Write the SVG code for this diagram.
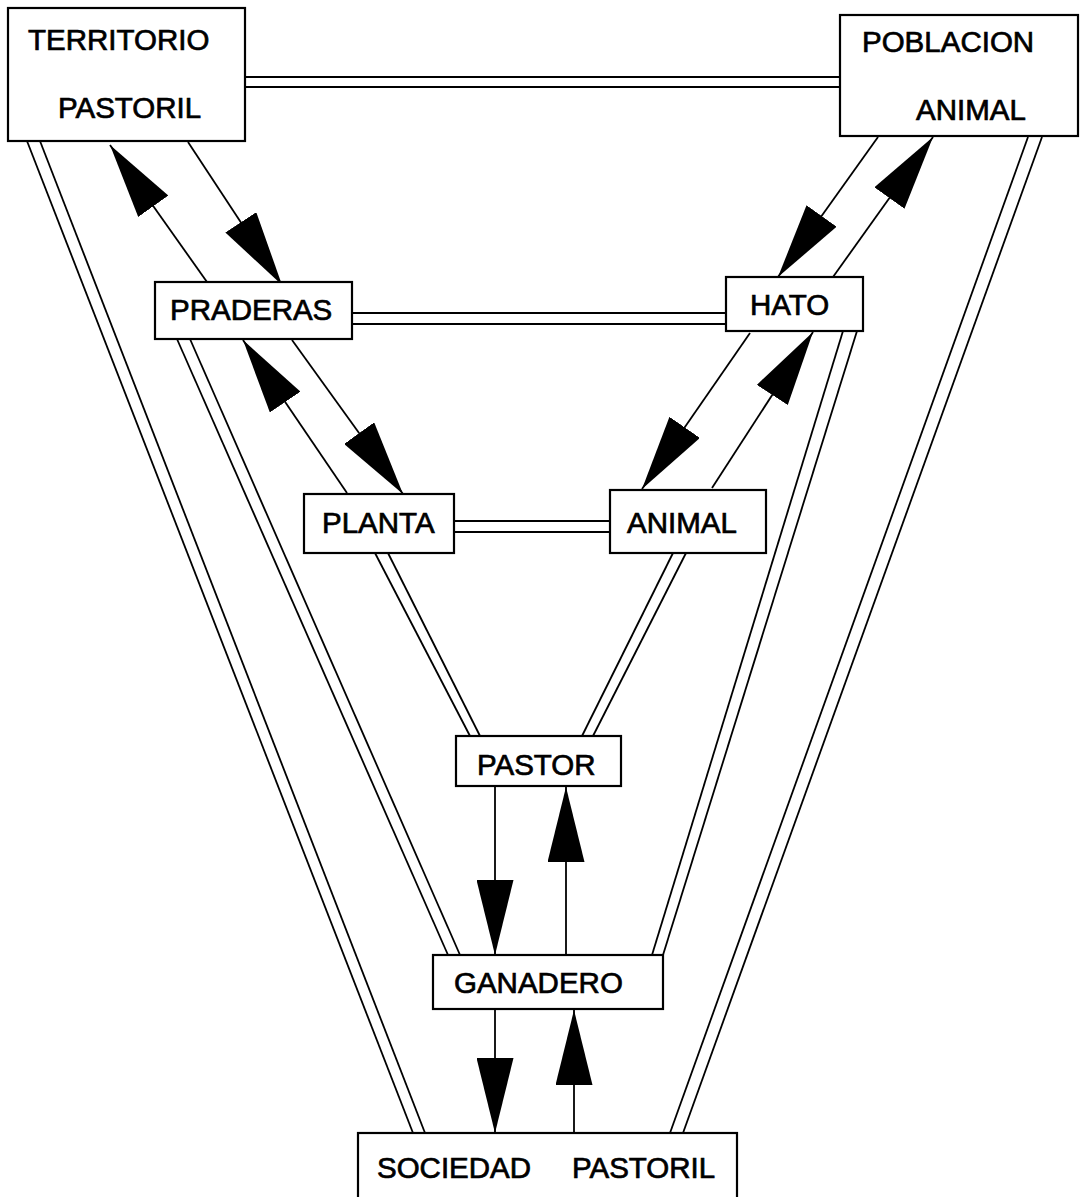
<svg xmlns="http://www.w3.org/2000/svg" width="1080" height="1197" viewBox="0 0 1080 1197">
<style>
.box{fill:#fff;stroke:#000;stroke-width:2.2}
.lbl{font-family:"Liberation Sans",Arial,sans-serif;font-size:29.5px;fill:#000;stroke:#000;stroke-width:0.7}
.dbl line{stroke:#000;stroke-width:1.8}
.arr line{stroke:#000;stroke-width:1.8;marker-end:url(#ah)}
</style>
<defs>
<marker id="ah" viewBox="0 0 75 37" markerWidth="75" markerHeight="37" refX="75" refY="18.5" orient="auto" markerUnits="userSpaceOnUse">
<path d="M0,0 L75,18.5 L0,37 Z" fill="#000"/>
</marker>
</defs>
<rect width="1080" height="1197" fill="#fff"/>
<g id="connectors">
<g class="dbl">
<line x1="245" y1="77" x2="840" y2="77"/><line x1="245" y1="87" x2="840" y2="87"/>
<line x1="352" y1="313" x2="726" y2="313"/><line x1="352" y1="324" x2="726" y2="324"/>
<line x1="454" y1="521" x2="610" y2="521"/><line x1="454" y1="532" x2="610" y2="532"/>
<line x1="27" y1="141" x2="413" y2="1133"/><line x1="40" y1="141" x2="425" y2="1133"/>
<line x1="1028" y1="137" x2="670" y2="1133"/><line x1="1042" y1="137" x2="683" y2="1133"/>
<line x1="177" y1="339" x2="448" y2="955"/><line x1="190" y1="339" x2="460" y2="955"/>
<line x1="843" y1="331" x2="652" y2="955"/><line x1="857" y1="331" x2="663" y2="955"/>
<line x1="375" y1="553" x2="470" y2="736"/><line x1="388" y1="553" x2="480" y2="736"/>
<line x1="673" y1="553" x2="582" y2="736"/><line x1="686" y1="553" x2="593" y2="736"/>
</g>
<g class="arr">
<line x1="188" y1="142" x2="282" y2="285"/>
<line x1="207" y1="282" x2="110" y2="145"/>
<line x1="878" y1="137" x2="778" y2="277"/>
<line x1="833" y1="277" x2="933" y2="137"/>
<line x1="292" y1="340" x2="403" y2="494"/>
<line x1="347" y1="493" x2="243" y2="340"/>
<line x1="750" y1="333" x2="642" y2="489"/>
<line x1="712" y1="488" x2="813" y2="332"/>
<line x1="495" y1="786" x2="495" y2="955"/>
<line x1="566" y1="955" x2="566" y2="787"/>
<line x1="495" y1="1009" x2="495" y2="1133"/>
<line x1="574" y1="1133" x2="574" y2="1010"/>
</g>
</g>
<g id="territorio"><rect class="box" x="8" y="8" width="237" height="133"/><text class="lbl" x="28" y="50">TERRITORIO</text><text class="lbl" x="58" y="118">PASTORIL</text></g>
<g id="poblacion"><rect class="box" x="840" y="15" width="238" height="121"/><text class="lbl" x="862" y="52">POBLACION</text><text class="lbl" x="916" y="120">ANIMAL</text></g>
<g id="praderas"><rect class="box" x="155" y="282" width="197" height="57"/><text class="lbl" x="170" y="320">PRADERAS</text></g>
<g id="hato"><rect class="box" x="726" y="277" width="137" height="54"/><text class="lbl" x="750" y="315">HATO</text></g>
<g id="planta"><rect class="box" x="304" y="494" width="150" height="59"/><text class="lbl" x="322" y="533">PLANTA</text></g>
<g id="animal"><rect class="box" x="610" y="490" width="156" height="63"/><text class="lbl" x="627" y="533">ANIMAL</text></g>
<g id="pastor"><rect class="box" x="456" y="736" width="165" height="50"/><text class="lbl" x="477" y="775">PASTOR</text></g>
<g id="ganadero"><rect class="box" x="433" y="955" width="230" height="54"/><text class="lbl" x="454" y="993">GANADERO</text></g>
<g id="sociedad"><rect class="box" x="358" y="1133" width="379" height="90"/><text class="lbl" x="377" y="1178">SOCIEDAD</text><text class="lbl" x="572" y="1178">PASTORIL</text></g>
</svg>
